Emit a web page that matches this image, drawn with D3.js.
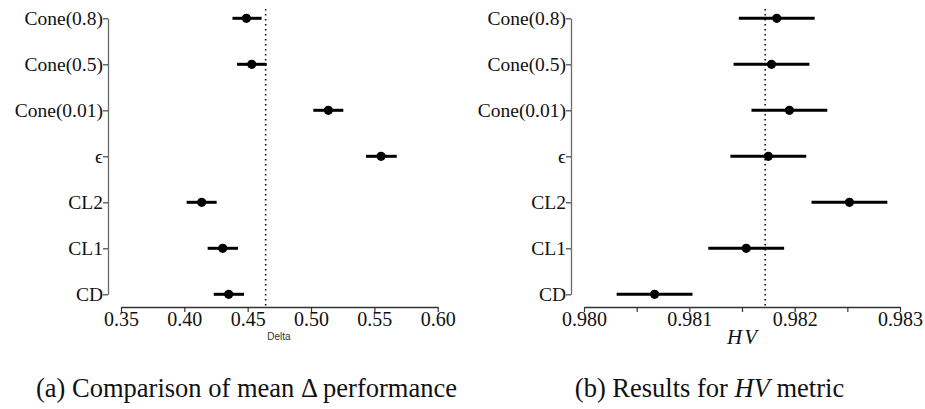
<!DOCTYPE html>
<html>
<head>
<meta charset="utf-8">
<script src="https://cdn.jsdelivr.net/npm/d3@7"></script>
<style>
  html, body { margin: 0; padding: 0; background: #fff; }
  svg { display: block; }
</style>
</head>
<body>
<svg id="chart" width="925" height="409"></svg>
<script>
// ---- data ----
const categories = ["Cone(0.8)", "Cone(0.5)", "Cone(0.01)", "ϵ", "CL2", "CL1", "CD"];

const deltaMean  = [0.449, 0.4532, 0.5137, 0.5553, 0.4137, 0.4303, 0.435];
const deltaLow   = [0.438, 0.4416, 0.5018, 0.5434, 0.4018, 0.4184, 0.4232];
const deltaHigh  = [0.461, 0.465, 0.5255, 0.5677, 0.4255, 0.4424, 0.4471];
const deltaRef   = 0.4642;
const deltaTicks = [0.35, 0.40, 0.45, 0.50, 0.55, 0.60];

const hvMean  = [0.98183, 0.98178, 0.98195, 0.98175, 0.98252, 0.98154, 0.98067];
const hvLow   = [0.98147, 0.98142, 0.98159, 0.98139, 0.98216, 0.98118, 0.98031];
const hvHigh  = [0.98219, 0.98214, 0.98231, 0.98211, 0.98288, 0.9819, 0.98103];
const hvRef   = 0.98172;
const hvTicks = [0.980, 0.9805, 0.981, 0.9815, 0.982, 0.9825, 0.983];
const hvLabelTicks = [0.980, 0.981, 0.982, 0.983];

const SERIF = "'Liberation Serif', 'DejaVu Serif', serif";
const svg = d3.select("#chart");

function panel(opts) {
  const g = svg.append("g");
  const x = d3.scaleLinear().domain(opts.domain).range(opts.xRange);
  const y = d3.scalePoint().domain(categories).range([18.3, 294.3]);

  // y axis
  const ya = g.append("g")
    .attr("transform", `translate(${opts.yAxisX},0)`)
    .call(d3.axisLeft(y).tickSize(5).tickSizeOuter(0).tickPadding(0))
    .attr("font-family", SERIF)
    .attr("font-size", 19.5);
  ya.select(".domain").attr("stroke", "#6a6a6a").attr("stroke-width", 1.3);
  ya.selectAll(".tick line").attr("stroke", "#444").attr("stroke-width", 1.2);
  ya.selectAll(".tick text")
    .attr("fill", "#111")
    .attr("dy", "0.32em");

  // x axis
  const xa = g.append("g")
    .attr("transform", `translate(0,307)`)
    .call(d3.axisBottom(x).tickValues(opts.ticks).tickSize(5).tickSizeOuter(0)
      .tickFormat(d => opts.labelTicks.some(v => Math.abs(v - d) < 1e-9) ? opts.fmt(d) : ""))
    .attr("font-family", SERIF)
    .attr("font-size", 20);
  xa.select(".domain").attr("stroke", "#333").attr("stroke-width", 1.3);
  xa.selectAll(".tick line").attr("stroke", "#333").attr("stroke-width", 1.2);
  xa.selectAll(".tick text")
    .attr("fill", "#111")
    .attr("y", 5)
    .attr("dy", "0.71em");

  // reference dotted line
  g.append("line")
    .attr("x1", x(opts.ref)).attr("x2", x(opts.ref))
    .attr("y1", 9).attr("y2", 307)
    .attr("stroke", "#111").attr("stroke-width", 1.6)
    .attr("stroke-dasharray", "1.6,3.4");

  // error bars
  g.selectAll("line.err").data(categories).enter().append("line")
    .attr("class", "err")
    .attr("x1", (d, i) => x(opts.low[i]))
    .attr("x2", (d, i) => x(opts.high[i]))
    .attr("y1", d => y(d)).attr("y2", d => y(d))
    .attr("stroke", "#000").attr("stroke-width", 3);

  // points
  g.selectAll("circle.pt").data(categories).enter().append("circle")
    .attr("class", "pt")
    .attr("cx", (d, i) => x(opts.mean[i]))
    .attr("cy", d => y(d))
    .attr("r", 4.6)
    .attr("fill", "#000");

  return { g, x };
}

panel({
  domain: [0.35, 0.60], xRange: [121, 437.7], yAxisX: 108,
  ticks: deltaTicks, labelTicks: deltaTicks, fmt: d3.format(".2f"),
  mean: deltaMean, low: deltaLow, high: deltaHigh, ref: deltaRef
});

panel({
  domain: [0.980, 0.983], xRange: [584, 900], yAxisX: 571,
  ticks: hvTicks, labelTicks: hvLabelTicks, fmt: d3.format(".3f"),
  mean: hvMean, low: hvLow, high: hvHigh, ref: hvRef
});

// axis titles
svg.append("text")
  .attr("x", 279).attr("y", 340)
  .attr("text-anchor", "middle")
  .attr("font-family", "'Liberation Sans', Arial, sans-serif")
  .attr("font-size", 10)
  .attr("fill", "#333")
  .text("Delta");

svg.append("text")
  .attr("x", 743).attr("y", 344)
  .attr("text-anchor", "middle")
  .attr("font-family", SERIF)
  .attr("font-size", 21)
  .attr("font-style", "italic")
  .attr("letter-spacing", 2)
  .attr("fill", "#111")
  .text("HV");

// captions
svg.append("text")
  .attr("x", 246.5).attr("y", 397)
  .attr("text-anchor", "middle")
  .attr("font-family", SERIF)
  .attr("font-size", 26.5)
  .attr("fill", "#111")
  .text("(a) Comparison of mean Δ performance");

const capB = svg.append("text")
  .attr("x", 709.5).attr("y", 397)
  .attr("text-anchor", "middle")
  .attr("font-family", SERIF)
  .attr("font-size", 26.5)
  .attr("fill", "#111");
capB.append("tspan").text("(b) Results for ");
capB.append("tspan").attr("font-style", "italic").text("HV");
capB.append("tspan").text(" metric");
</script>
</body>
</html>
